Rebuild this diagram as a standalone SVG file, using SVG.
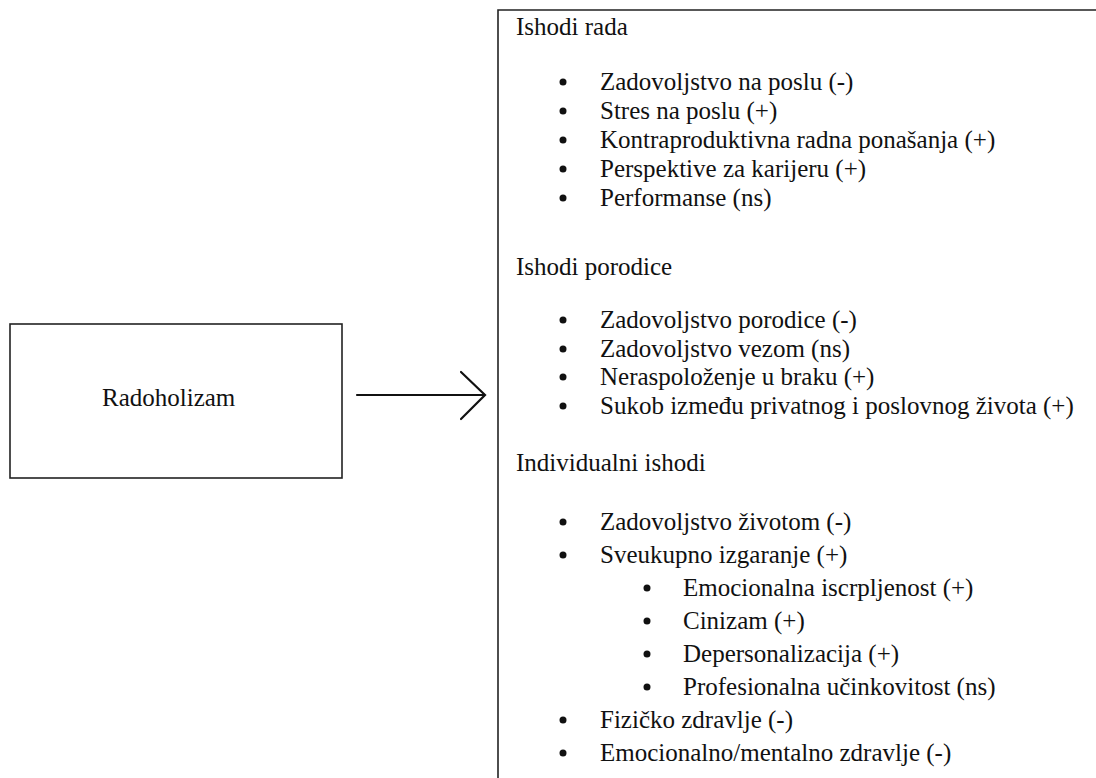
<svg xmlns="http://www.w3.org/2000/svg" width="1096" height="778" viewBox="0 0 1096 778">
<style>
text{font-family:"Liberation Serif","Times New Roman",serif;font-size:25px;fill:#111}
.box{fill:#fff;stroke:#222;stroke-width:1.6}
.ln{fill:none;stroke:#111;stroke-width:2.2;stroke-linecap:round;stroke-linejoin:miter}
.b{fill:#111}
</style>
<rect width="1096" height="778" fill="#fff"/>
<g id="node-radoholizam">
<rect class="box" x="10" y="324" width="332" height="154"/>
<text x="102" y="406">Radoholizam</text>
</g>
<g id="connectors">
<path class="ln" d="M357 395 H484"/>
<path class="ln" d="M461 372 L485 395 L461 419"/>
</g>
<g id="node-ishodi">
<path class="box" fill="none" d="M1100 10 H498 V782"/>
<text x="516" y="35">Ishodi rada</text>
<circle class="b" cx="563" cy="82" r="3.5"/><text x="600" y="90">Zadovoljstvo na poslu (-)</text>
<circle class="b" cx="563" cy="111" r="3.5"/><text x="600" y="119">Stres na poslu (+)</text>
<circle class="b" cx="563" cy="140" r="3.5"/><text x="600" y="148">Kontraproduktivna radna ponašanja (+)</text>
<circle class="b" cx="563" cy="169" r="3.5"/><text x="600" y="177">Perspektive za karijeru (+)</text>
<circle class="b" cx="563" cy="198" r="3.5"/><text x="600" y="206">Performanse (ns)</text>
<text x="516" y="275">Ishodi porodice</text>
<circle class="b" cx="563" cy="320" r="3.5"/><text x="600" y="328">Zadovoljstvo porodice (-)</text>
<circle class="b" cx="563" cy="349" r="3.5"/><text x="600" y="357">Zadovoljstvo vezom (ns)</text>
<circle class="b" cx="563" cy="377" r="3.5"/><text x="600" y="385">Neraspoloženje u braku (+)</text>
<circle class="b" cx="563" cy="406" r="3.5"/><text x="600" y="414">Sukob između privatnog i poslovnog života (+)</text>
<text x="516" y="471">Individualni ishodi</text>
<circle class="b" cx="563" cy="522" r="3.5"/><text x="600" y="530">Zadovoljstvo životom (-)</text>
<circle class="b" cx="563" cy="555" r="3.5"/><text x="600" y="563">Sveukupno izgaranje (+)</text>
<circle class="b" cx="647" cy="588" r="3.5"/><text x="683" y="596">Emocionalna iscrpljenost (+)</text>
<circle class="b" cx="647" cy="621" r="3.5"/><text x="683" y="629">Cinizam (+)</text>
<circle class="b" cx="647" cy="654" r="3.5"/><text x="683" y="662">Depersonalizacija (+)</text>
<circle class="b" cx="647" cy="687" r="3.5"/><text x="683" y="695">Profesionalna učinkovitost (ns)</text>
<circle class="b" cx="563" cy="720" r="3.5"/><text x="600" y="728">Fizičko zdravlje (-)</text>
<circle class="b" cx="563" cy="753" r="3.5"/><text x="600" y="761">Emocionalno/mentalno zdravlje (-)</text>
</g>
</svg>
